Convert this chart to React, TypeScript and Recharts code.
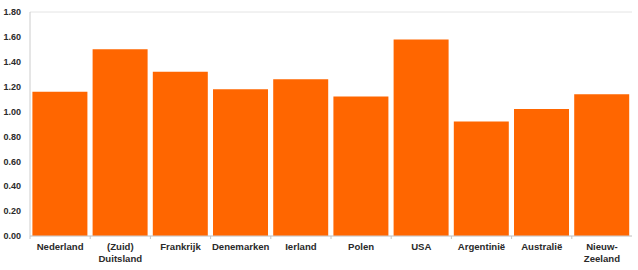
import { BarChart, Bar, XAxis, YAxis, CartesianGrid } from 'recharts';

// Landen en waarden
const countries = [
  'Nederland',
  '(Zuid)\nDuitsland',
  'Frankrijk',
  'Denemarken',
  'Ierland',
  'Polen',
  'USA',
  'Argentinië',
  'Australië',
  'Nieuw-\nZeeland',
];
const values = [1.16, 1.5, 1.32, 1.18, 1.26, 1.12, 1.58, 0.92, 1.02, 1.14];
const yTicks = [0, 0.2, 0.4, 0.6, 0.8, 1.0, 1.2, 1.4, 1.6, 1.8];

const data = countries.map((name, i) => ({ name, value: values[i] }));

const FONT = '"Liberation Sans", Arial, sans-serif';

const CountryTick = (props: any) => {
  const { x, y, payload } = props;
  const half = payload?.offset ?? 30;
  const lines = String(payload.value).split('\n');
  return (
    <g>
      <line x1={x - half} x2={x - half} y1={y - 8} y2={y - 5} stroke="#c4c4c4" />
      <text x={x} y={y} textAnchor="middle" fontFamily={FONT} fontSize={9.6} fontWeight="bold" fill="#2a2a2a">
        {lines.map((l, i) => (
          <tspan key={i} x={x} dy={i === 0 ? 6 : 12}>{l}</tspan>
        ))}
      </text>
    </g>
  );
};

const App = () => (
  <div style={{ position: 'absolute', left: 0, top: 0, background: '#fff' }}>
    <BarChart
      width={638}
      height={270}
      data={data}
      margin={{ top: 12, right: 6, bottom: 0, left: 0 }}
      barCategoryGap="4%"
    >
      <CartesianGrid vertical={false} stroke="#e4e4e4" />
      <XAxis
        dataKey="name"
        interval={0}
        tickLine={false}
        axisLine={{ stroke: '#cccccc' }}
        height={34}
        tick={<CountryTick />}
      />
      <YAxis
        yAxisId="left"
        domain={[0, 1.8]}
        ticks={yTicks}
        tickFormatter={(v: number) => v.toFixed(2)}
        width={30}
        tickLine={false}
        axisLine={{ stroke: '#cccccc' }}
        tickMargin={3}
        tick={{ fontFamily: FONT, fontSize: 9, fontWeight: 'bold', fill: '#2a2a2a' }}
      />
      <YAxis
        yAxisId="right"
        orientation="right"
        domain={[0, 1.8]}
        ticks={yTicks}
        tick={false}
        tickLine={false}
        width={0}
        axisLine={{ stroke: '#dddddd' }}
      />
      <Bar yAxisId="left" dataKey="value" fill="#ff6600" isAnimationActive={false} />
    </BarChart>
  </div>
);

export default App;
